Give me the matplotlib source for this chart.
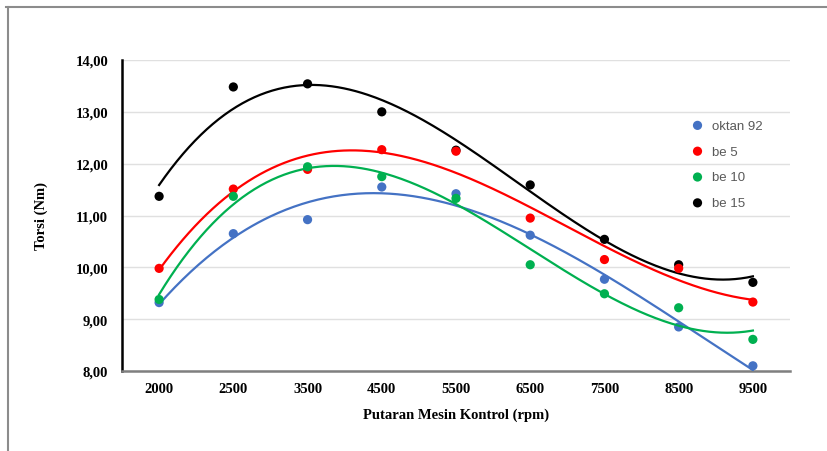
import numpy as np
import matplotlib
matplotlib.use("Agg")
import matplotlib.pyplot as plt
from matplotlib.lines import Line2D

# Data
rpm = ["2000", "2500", "3500", "4500", "5500", "6500", "7500", "8500", "9500"]
oktan_92 = [9.32, 10.65, 10.92, 11.55, 11.42, 10.62, 9.77, 8.85, 8.10]
be_5 = [9.98, 11.51, 11.89, 12.27, 12.24, 10.95, 10.15, 9.98, 9.33]
be_10 = [9.38, 11.37, 11.94, 11.75, 11.33, 10.05, 9.49, 9.22, 8.61]
be_15 = [11.37, 13.48, 13.54, 13.00, 12.26, 11.59, 10.54, 10.05, 9.71]

series = [
    ("be 15", be_15, "#000000", 2),
    ("oktan 92", oktan_92, "#4472C4", 3),
    ("be 5", be_5, "#FF0000", 4),
    ("be 10", be_10, "#00B050", 5),
]
legend_order = ["oktan 92", "be 5", "be 10", "be 15"]

W, H = 828, 452
fig = plt.figure(figsize=(W / 100, H / 100), dpi=100)
ax = fig.add_axes([122 / W, 1 - 372 / H, (790 - 122) / W, (372 - 61) / H])

x = np.arange(len(rpm))
xs = np.linspace(0, len(rpm) - 1, 300)
handles = {}
for name, vals, color, z in series:
    # polynomial trendline (Excel style, order 3)
    coef = np.polyfit(x, vals, 3)
    ax.plot(xs, np.polyval(coef, xs), color=color, lw=1.6, zorder=z)
    h = ax.scatter(x, vals, s=44, color=color, zorder=z + 0.5, label=name,
                   edgecolors="none")
    handles[name] = h

ax.set_xlim(-0.5, len(rpm) - 0.5)
ax.set_ylim(8, 14)
ax.set_xticks(x)
ax.set_xticklabels(rpm)
yt = np.arange(8, 14.01, 1)
ax.set_yticks(yt)
ax.set_yticklabels([f"{v:.2f}".replace(".", ",") for v in yt])

tick_font = dict(family="Liberation Serif", weight="bold", size=10.5)
for lab in ax.get_xticklabels() + ax.get_yticklabels():
    lab.set_fontproperties(matplotlib.font_manager.FontProperties(**tick_font))
ax.tick_params(length=0)
ax.tick_params(axis="x", pad=8)
ax.tick_params(axis="y", pad=10)

ax.grid(True, axis="y", color="#e0e0e0", lw=1)
ax.set_axisbelow(True)
for s in ["top", "right"]:
    ax.spines[s].set_visible(False)
ax.spines["left"].set_color("#000000")
ax.spines["left"].set_linewidth(1.8)
ax.spines["bottom"].set_color("#7f7f7f")
ax.spines["bottom"].set_linewidth(1.8)

ax.set_xlabel("Putaran Mesin Kontrol (rpm)", family="Liberation Serif",
              weight="bold", size=10.5, labelpad=9)
ax.set_ylabel("Torsi (Nm)", family="Liberation Serif", weight="bold",
              size=10.5, labelpad=20)

leg = ax.legend([handles[n] for n in legend_order], legend_order,
                loc="upper left", bbox_to_anchor=(683 / W, 1 - 114 / H),
                bbox_transform=fig.transFigure, frameon=False,
                prop=dict(family="Liberation Sans", size=9.5),
                labelspacing=1.03, handletextpad=0.5, handlelength=1.2,
                borderpad=0)
for t in leg.get_texts():
    t.set_color("#595959")

# outer chart border (top and left visible)
fig.add_artist(Line2D([6 / W, 1], [1 - 8 / H, 1 - 8 / H], color="#8c8c8c", lw=1.5))
fig.add_artist(Line2D([8 / W, 8 / W], [0, 1 - 8 / H], color="#8c8c8c", lw=1.5))

fig.savefig("out.png", dpi=100)
